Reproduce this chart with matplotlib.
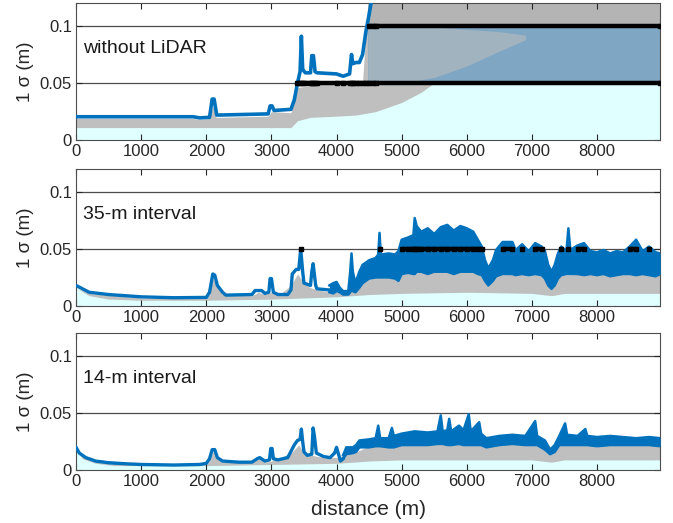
import numpy as np
import matplotlib
matplotlib.use('Agg')
import matplotlib.pyplot as plt

plt.rcParams['font.family'] = ['Liberation Sans', 'DejaVu Sans']

BLUE = '#0072bd'
CYAN = '#e0ffff'
GRAY = '#bfbfbf'
DARK = '#262626'
XMAX = 8970
LIMIT_LO, LIMIT_HI = 0.05, 0.1

panel_titles = ['without LiDAR', '35-m interval', '14-m interval']
xticks = [0, 1000, 2000, 3000, 4000, 5000, 6000, 7000, 8000]
yticks = [0, 0.05, 0.1]
ytick_labels = ['0', '0.05', '0.1']

# ---------- without LiDAR ----------
floor1_x = [0, 3300, 3400, 3600, 4000, 4300, 4600, 5000, 5300, 5500, XMAX]
floor1_y = [0.011, 0.011, 0.017, 0.020, 0.021, 0.022, 0.025, 0.033, 0.042, 0.050, 0.050]
gray1_x = [0, 1800, 1900, 2050, 2100, 2150, 2200, 2950, 3000, 3300, 3400, 3600, 4000, 4400, 4480, XMAX]
gray1_y = [0.019, 0.019, 0.018, 0.019, 0.030, 0.020, 0.020, 0.021, 0.025, 0.024, 0.046, 0.048, 0.050, 0.052, 0.12, 0.12]
blue1_x = [0, 1800, 1900, 2050, 2090, 2120, 2160, 2200, 2950, 2980, 3010, 3040, 3300, 3350, 3400,
           3440, 3460, 3480, 3520, 3600, 3620, 3645, 3670, 3700, 4000, 4100, 4200, 4230, 4250,
           4300, 4350, 4400, 4450, 4500, 4560, 4600, XMAX]
blue1_y = [0.0205, 0.0205, 0.0195, 0.020, 0.036, 0.036, 0.022, 0.022, 0.023, 0.030, 0.030, 0.026,
           0.027, 0.035, 0.050, 0.060, 0.091, 0.062, 0.059, 0.059, 0.074, 0.074, 0.060, 0.059,
           0.058, 0.056, 0.058, 0.075, 0.067, 0.068, 0.068, 0.075, 0.095, 0.110, 0.13, 0.15, 0.15]
# blue-tinted band and the gray tangle that overlaps it
band1_x = [4480, XMAX]
mix1_x = [4480, 5000, 5500, 6000, 6500, 6900]
mix1_lo = [0.050, 0.050, 0.055, 0.065, 0.078, 0.088]
mix1_hi = [0.100, 0.100, 0.099, 0.097, 0.095, 0.092]

# ---------- 35-m interval ----------
floor2_x = [0, 200, 500, 1000, 2000, 3000, 4000, 4500, 5000, 6000, 7000, 7300, 7500, XMAX]
floor2_y = [0.016, 0.009, 0.006, 0.005, 0.005, 0.006, 0.008, 0.010, 0.011, 0.012, 0.011, 0.009, 0.011, 0.011]
gray2_x = [0, 200, 1000, 2000, 2050, 2100, 2150, 2250, 2700, 2800, 2900, 3000, 3100, 3300, 3400,
           3500, 3600, 3700, 3900, 4100, 4300, 4500, 4700, 5000, 6000, 6250, 6320, 6400, 7200,
           7300, 7400, XMAX]
gray2_y = [0.016, 0.011, 0.007, 0.007, 0.010, 0.024, 0.020, 0.010, 0.009, 0.012, 0.010, 0.012,
           0.009, 0.018, 0.028, 0.020, 0.016, 0.014, 0.012, 0.012, 0.018, 0.026, 0.027, 0.030,
           0.031, 0.029, 0.020, 0.027, 0.029, 0.017, 0.027, 0.030]
line2_x = [0, 200, 500, 1000, 1500, 2000, 2050, 2100, 2130, 2170, 2250, 2300, 2700, 2750, 2850,
           2900, 2960, 2980, 3000, 3030, 3100, 3250, 3300, 3320, 3380, 3420, 3450, 3480, 3500,
           3600, 3620, 3640, 3680, 3700, 3890]
line2_y = [0.018, 0.012, 0.010, 0.008, 0.0072, 0.0075, 0.012, 0.028, 0.027, 0.018, 0.012, 0.0095,
           0.010, 0.0135, 0.0135, 0.011, 0.012, 0.024, 0.024, 0.012, 0.010, 0.010, 0.014, 0.028,
           0.032, 0.032, 0.050, 0.030, 0.020, 0.018, 0.030, 0.037, 0.018, 0.015, 0.014]
band2_x = [3890, 3950, 4000, 4050, 4100, 4180, 4210, 4230, 4250, 4290, 4350, 4400, 4500, 4600,
           4640, 4660, 4680, 4800, 4900, 4950, 5000, 5100, 5180, 5200, 5230, 5300, 5400, 5500,
           5600, 5700, 5800, 5900, 6000, 6100, 6170, 6230, 6280, 6330, 6400, 6450, 6550, 6700,
           6750, 6850, 6950, 7050, 7150, 7200, 7250, 7300, 7350, 7400, 7450, 7530, 7560, 7590,
           7700, 7800, 7900, 8000, 8100, 8200, 8300, 8400, 8500, 8600, 8700, 8800, 8900, XMAX]
band2_lo = [0.012, 0.011, 0.013, 0.012, 0.010, 0.010, 0.012, 0.014, 0.013, 0.012, 0.016, 0.020,
            0.024, 0.025, 0.025, 0.025, 0.025, 0.025, 0.024, 0.022, 0.028, 0.029, 0.028, 0.028,
            0.030, 0.030, 0.028, 0.030, 0.030, 0.030, 0.028, 0.030, 0.030, 0.030, 0.028, 0.027,
            0.022, 0.018, 0.022, 0.026, 0.028, 0.028, 0.027, 0.028, 0.027, 0.028, 0.027, 0.024,
            0.018, 0.015, 0.018, 0.024, 0.027, 0.028, 0.028, 0.028, 0.028, 0.027, 0.028, 0.027,
            0.028, 0.026, 0.027, 0.028, 0.028, 0.027, 0.028, 0.027, 0.026, 0.028]
band2_hi = [0.018, 0.020, 0.021, 0.016, 0.013, 0.013, 0.030, 0.046, 0.030, 0.020, 0.030, 0.036,
            0.040, 0.042, 0.045, 0.064, 0.045, 0.046, 0.045, 0.048, 0.058, 0.060, 0.062, 0.077,
            0.070, 0.065, 0.068, 0.063, 0.069, 0.071, 0.066, 0.070, 0.068, 0.065, 0.058, 0.052,
            0.040, 0.033, 0.040, 0.049, 0.056, 0.056, 0.049, 0.054, 0.048, 0.055, 0.052, 0.048,
            0.036, 0.030, 0.036, 0.046, 0.052, 0.048, 0.068, 0.049, 0.053, 0.055, 0.048, 0.047,
            0.049, 0.046, 0.048, 0.047, 0.052, 0.058, 0.048, 0.052, 0.047, 0.046]

# ---------- 14-m interval ----------
floor3_x = [0, 100, 300, 600, 2000, 3000, 4000, 4500, 5000, 6000, 7000, 7300, 7500, XMAX]
floor3_y = [0.018, 0.010, 0.006, 0.004, 0.004, 0.005, 0.006, 0.008, 0.009, 0.009, 0.009, 0.007, 0.009, 0.009]
gray3_x = [0, 200, 1000, 2000, 2050, 2100, 2150, 2250, 2750, 2800, 2900, 3000, 3300, 3420, 3500,
           3700, 4000, 4300, 4500, 4800, 5000, 7200, 7300, 7400, XMAX]
gray3_y = [0.018, 0.010, 0.005, 0.005, 0.008, 0.016, 0.014, 0.007, 0.008, 0.010, 0.007, 0.008,
           0.015, 0.022, 0.015, 0.012, 0.011, 0.016, 0.021, 0.022, 0.023, 0.023, 0.015, 0.023, 0.023]
line3_x = [0, 50, 150, 300, 500, 800, 1000, 1500, 1900, 2000, 2050, 2090, 2130, 2170, 2250, 2500,
           2700, 2780, 2820, 2900, 2970, 2990, 3010, 3030, 3100, 3250, 3350, 3400, 3440, 3460,
           3480, 3500, 3550, 3620, 3640, 3660, 3690, 3800, 3900, 3970, 4000, 4030, 4060, 4100]
line3_y = [0.020, 0.015, 0.011, 0.008, 0.0065, 0.0055, 0.005, 0.0045, 0.005, 0.006, 0.010, 0.018,
           0.018, 0.011, 0.008, 0.007, 0.007, 0.010, 0.011, 0.008, 0.009, 0.019, 0.019, 0.010,
           0.009, 0.011, 0.022, 0.026, 0.027, 0.036, 0.025, 0.016, 0.013, 0.014, 0.037, 0.030,
           0.015, 0.012, 0.011, 0.015, 0.020, 0.014, 0.008, 0.010]
band3_x = [4100, 4150, 4250, 4300, 4350, 4500, 4600, 4640, 4670, 4800, 4850, 4880, 5000, 5200,
           5400, 5550, 5600, 5630, 5700, 5730, 5760, 5880, 5950, 6030, 6060, 6190, 6220, 6300,
           6500, 6700, 6900, 7050, 7080, 7200, 7280, 7350, 7420, 7510, 7540, 7700, 7820, 7850,
           8000, 8200, 8400, 8600, 8800, XMAX]
band3_lo = [0.010, 0.014, 0.015, 0.016, 0.020, 0.020, 0.021, 0.021, 0.021, 0.020, 0.020, 0.020,
            0.022, 0.022, 0.022, 0.023, 0.023, 0.023, 0.022, 0.022, 0.022, 0.023, 0.022, 0.022,
            0.022, 0.022, 0.022, 0.020, 0.022, 0.023, 0.022, 0.022, 0.022, 0.018, 0.014, 0.016,
            0.022, 0.022, 0.022, 0.022, 0.022, 0.022, 0.021, 0.022, 0.022, 0.022, 0.022, 0.021]
band3_hi = [0.013, 0.020, 0.020, 0.022, 0.026, 0.027, 0.028, 0.039, 0.028, 0.028, 0.037, 0.030,
            0.032, 0.034, 0.033, 0.034, 0.048, 0.034, 0.035, 0.045, 0.034, 0.039, 0.035, 0.049,
            0.034, 0.042, 0.032, 0.028, 0.030, 0.031, 0.030, 0.043, 0.030, 0.026, 0.018, 0.022,
            0.030, 0.041, 0.031, 0.030, 0.036, 0.030, 0.029, 0.030, 0.029, 0.028, 0.029, 0.028]


def style_axes(ax, title):
    ax.set_xlim(0, XMAX)
    ax.set_ylim(0, 0.12)
    ax.set_xticks(xticks)
    ax.set_yticks(yticks)
    ax.set_yticklabels(ytick_labels)
    for y in [LIMIT_LO, LIMIT_HI]:
        ax.axhline(y, color='#4d4d4d', lw=0.9, zorder=0.5)
    ax.tick_params(direction='in', top=True, right=True, length=4, width=0.8,
                   labelsize=12, colors=DARK, pad=3)
    for s in ax.spines.values():
        s.set_color('#4d4d4d')
        s.set_linewidth(0.8)
    ax.set_ylabel('1 σ (m)', fontsize=13.5, color=DARK, labelpad=4)
    ax.text(0.012, 0.67, title, transform=ax.transAxes, fontsize=14,
            color='#1a1a1a', va='center', ha='left')


def exceed_marks(ax, x, y, level):
    x = np.asarray(x)
    y = np.asarray(y)
    marks = np.where(y >= level, level, np.nan)
    ax.plot(x, marks, color='k', lw=3.2, marker='s', ms=3, zorder=5, solid_capstyle='butt')


fig = plt.figure(figsize=(6.73, 5.23), dpi=100)
axes_pos = [[0.113, 0.732, 0.868, 0.262],
            [0.113, 0.415, 0.868, 0.262],
            [0.113, 0.101, 0.868, 0.262]]
axes = [fig.add_axes(p) for p in axes_pos]

# panel 1: no LiDAR, spread blows up after ~4.5 km
ax = axes[0]
ax.fill_between(gray1_x, 0, gray1_y, color=GRAY, lw=0, zorder=1)
ax.fill_between(band1_x, LIMIT_HI, 0.12, color='#8c8c8c', alpha=0.2, lw=0, zorder=1.1)
ax.fill_between(band1_x, LIMIT_LO, LIMIT_HI, color='#7fa6c2', lw=0, zorder=1.2)
ax.fill_between(mix1_x, mix1_lo, mix1_hi, color=GRAY, alpha=0.55, lw=0, zorder=1.3)
ax.fill_between(floor1_x, 0, floor1_y, color=CYAN, lw=0, zorder=1.4)
ax.plot(blue1_x, blue1_y, color=BLUE, lw=2.6, zorder=3, clip_on=True)
exceed_marks(ax, blue1_x, blue1_y, LIMIT_LO)
exceed_marks(ax, blue1_x, blue1_y, LIMIT_HI)
style_axes(ax, panel_titles[0])

# panels 2 and 3: smooth line first, then the noisy stretch as a band
panel_data = [
    (floor2_x, floor2_y, gray2_x, gray2_y, line2_x, line2_y, band2_x, band2_lo, band2_hi),
    (floor3_x, floor3_y, gray3_x, gray3_y, line3_x, line3_y, band3_x, band3_lo, band3_hi),
]
for ax, title, d in zip(axes[1:], panel_titles[1:], panel_data):
    fx, fy, gx, gy, lx, ly, bx, blo, bhi = d
    ax.fill_between(gx, 0, gy, color=GRAY, lw=0, zorder=1)
    ax.fill_between(fx, 0, fy, color=CYAN, lw=0, zorder=1.4)
    ax.plot(lx, ly, color=BLUE, lw=2.4, zorder=3)
    ax.fill_between(bx, blo, bhi, color=BLUE, lw=0, zorder=3)
    ax.plot(bx, bhi, color=BLUE, lw=1.8, zorder=3)
    ax.plot(bx, blo, color=BLUE, lw=1.8, zorder=3)
    exceed_marks(ax, lx, ly, LIMIT_LO)
    exceed_marks(ax, bx, bhi, LIMIT_LO)
    style_axes(ax, title)

axes[2].set_xlabel('distance (m)', fontsize=15, color=DARK, labelpad=8)

fig.savefig('out.png', dpi=100)
